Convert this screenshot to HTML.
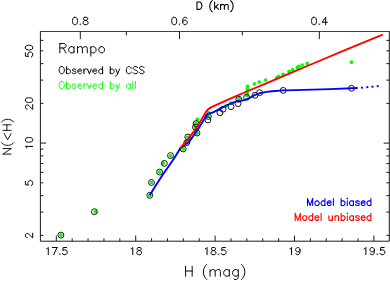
<!DOCTYPE html>
<html><head><meta charset="utf-8"><title>Rampo</title>
<style>html,body{margin:0;padding:0;background:#fff;font-family:"Liberation Sans",sans-serif;}svg{display:block}</style>
</head><body>
<svg width="390" height="281" viewBox="0 0 390 281">
<rect width="390" height="281" fill="#fff"/>
<g fill="none" stroke="#1a1a1a" stroke-width="1" stroke-linecap="butt">
<path d="M40.40 31.00V241.20H389.30V31.00"/>
<path d="M40.40 31.50H389.30" stroke="#383838" stroke-width="0.95"/>
<path d="M56.30 241.20V235.60M72.18 241.20V238.30M88.06 241.20V238.30M103.94 241.20V238.30M119.82 241.20V238.30M135.70 241.20V235.60M151.58 241.20V238.30M167.46 241.20V238.30M183.34 241.20V238.30M199.22 241.20V238.30M215.10 241.20V235.60M230.98 241.20V238.30M246.86 241.20V238.30M262.74 241.20V238.30M278.62 241.20V238.30M294.50 241.20V235.60M310.38 241.20V238.30M326.26 241.20V238.30M342.14 241.20V238.30M358.02 241.20V238.30M373.90 241.20V235.60M80.30 31.50V39.10M126.35 31.50V35.40M179.50 31.50V39.10M242.37 31.50V35.40M319.32 31.50V39.10M40.40 235.36H43.40M389.30 235.36H386.30M40.40 212.12H43.40M389.30 212.12H386.30M40.40 195.63H43.40M389.30 195.63H386.30M40.40 182.84H43.40M389.30 182.84H386.30M40.40 172.38H43.40M389.30 172.38H386.30M40.40 163.55H43.40M389.30 163.55H386.30M40.40 155.89H43.40M389.30 155.89H386.30M40.40 149.14H43.40M389.30 149.14H386.30M40.40 143.10H46.10M389.30 143.10H383.60M40.40 103.36H43.40M389.30 103.36H386.30M40.40 80.12H43.40M389.30 80.12H386.30M40.40 63.63H43.40M389.30 63.63H386.30M40.40 50.84H43.40M389.30 50.84H386.30M40.40 40.38H43.40M389.30 40.38H386.30"/>
</g>
<g fill="#00ff00" stroke="none">
<circle cx="60.9" cy="235.1" r="1.85"/>
<circle cx="95.4" cy="211.7" r="1.85"/>
<circle cx="149.8" cy="195.3" r="1.85"/>
<circle cx="151.5" cy="182.5" r="1.85"/>
<circle cx="159.6" cy="172.1" r="1.85"/>
<circle cx="163.1" cy="163.4" r="1.85"/>
<circle cx="170.5" cy="155.8" r="1.85"/>
<circle cx="183.3" cy="148.9" r="1.85"/>
<circle cx="186.8" cy="142.6" r="1.85"/>
<circle cx="187.8" cy="137.0" r="1.85"/>
<circle cx="197.0" cy="133.2" r="1.85"/>
<circle cx="195.4" cy="127.3" r="1.85"/>
<circle cx="196.0" cy="123.4" r="1.85"/>
<circle cx="197.4" cy="119.3" r="1.85"/>
<circle cx="208.2" cy="116.3" r="1.85"/>
<circle cx="208.4" cy="112.6" r="1.85"/>
<circle cx="219.9" cy="109.0" r="1.85"/>
<circle cx="225.9" cy="106.0" r="1.85"/>
<circle cx="230.6" cy="103.1" r="1.85"/>
<circle cx="238.8" cy="100.3" r="1.85"/>
<circle cx="238.9" cy="98.3" r="1.85"/>
<circle cx="246.9" cy="95.4" r="1.85"/>
<circle cx="247.2" cy="92.9" r="1.85"/>
<circle cx="247.5" cy="90.4" r="1.85"/>
<circle cx="247.6" cy="88.2" r="1.85"/>
<circle cx="247.6" cy="86.3" r="1.85"/>
<circle cx="254.4" cy="83.9" r="1.85"/>
<circle cx="259.2" cy="82.0" r="1.85"/>
<circle cx="265.7" cy="80.0" r="1.85"/>
<circle cx="276.6" cy="77.8" r="1.85"/>
<circle cx="278.5" cy="76.3" r="1.85"/>
<circle cx="283.2" cy="74.3" r="1.85"/>
<circle cx="289.1" cy="71.4" r="1.85"/>
<circle cx="292.6" cy="69.7" r="1.85"/>
<circle cx="297.4" cy="67.4" r="1.85"/>
<circle cx="299.0" cy="66.3" r="1.85"/>
<circle cx="302.2" cy="65.0" r="1.85"/>
<circle cx="307.2" cy="63.4" r="1.85"/>
<circle cx="351.5" cy="62.2" r="1.85"/>
</g>
<g fill="none" stroke="#000" stroke-width="0.9">
<circle cx="60.9" cy="235.1" r="2.95"/>
<circle cx="94.4" cy="211.7" r="2.95"/>
<circle cx="149.8" cy="195.3" r="2.95"/>
<circle cx="151.5" cy="182.5" r="2.95"/>
<circle cx="159.6" cy="172.1" r="2.95"/>
<circle cx="164.3" cy="163.4" r="2.95"/>
<circle cx="170.5" cy="155.6" r="2.95"/>
<circle cx="183.2" cy="148.9" r="2.95"/>
<circle cx="186.8" cy="142.6" r="2.95"/>
<circle cx="187.8" cy="137.0" r="2.95"/>
<circle cx="197.0" cy="133.0" r="2.95"/>
<circle cx="195.4" cy="127.3" r="2.95"/>
<circle cx="196.1" cy="123.6" r="2.95"/>
<circle cx="207.9" cy="120.0" r="2.95"/>
<circle cx="208.3" cy="116.5" r="2.95"/>
<circle cx="219.9" cy="112.8" r="2.95"/>
<circle cx="223.1" cy="109.2" r="2.95"/>
<circle cx="231.0" cy="106.7" r="2.95"/>
<circle cx="238.0" cy="103.6" r="2.95"/>
<circle cx="238.8" cy="99.2" r="2.95"/>
<circle cx="246.6" cy="97.3" r="2.95"/>
<circle cx="255.0" cy="95.3" r="2.95"/>
<circle cx="259.6" cy="92.7" r="2.95"/>
<circle cx="283.2" cy="90.4" r="2.95"/>
<circle cx="351.5" cy="88.3" r="2.95"/>
</g>
<path d="M149.7 195.3L155.3 186.2L161.4 176.8L167.3 168.2L173.5 159.2L178.4 151.5L180.1 148.6L184.6 145.0L189.1 142.0L198.5 128.4L206.0 116.2L207.6 114.4L209.5 113.2L212.0 112.8L216.0 110.8L221.3 108.1L226.0 105.6L230.8 103.5L236.0 101.6L241.0 100.8L245.0 99.8L249.9 97.8L254.5 95.1L260.1 93.1L266.6 91.9L272.0 91.3L283.2 90.4L295.0 90.1L330.0 89.1L357.7 88.0" fill="none" stroke="#0000ff" stroke-width="1.9" stroke-linejoin="round"/>
<path d="M361.0 87.8L363.0 87.6" stroke="#0000ff" stroke-width="1.9"/>
<path d="M366.3 87.3L368.3 87.1" stroke="#0000ff" stroke-width="1.9"/>
<path d="M371.5 86.8L373.5 86.6" stroke="#0000ff" stroke-width="1.9"/>
<path d="M376.7 86.3L378.7 86.1" stroke="#0000ff" stroke-width="1.9"/>
<path d="M180.2 148.3L187.3 139.8L194.5 130.6L201.0 120.4L206.2 111.4L207.8 109.6L209.8 108.1L212.5 106.7L222.0 102.4L236.0 96.1L248.0 91.0L268.0 82.7L295.0 71.2L312.0 64.0L345.0 50.2L382.7 34.7" fill="none" stroke="#ff0000" stroke-width="1.9" stroke-linejoin="round"/>
<g fill="none" stroke-linecap="round" stroke-linejoin="round">
<path d="M74.65 17.31L73.60 17.66L72.89 18.72L72.54 20.48L72.54 21.53L72.89 23.29L73.60 24.35L74.65 24.70L75.36 24.70L76.42 24.35L77.13 23.29L77.48 21.53L77.48 20.48L77.13 18.72L76.42 17.66L75.36 17.31L74.65 17.31M80.30 24.00L79.95 24.35L80.30 24.70L80.66 24.35L80.30 24.00M84.89 17.31L83.83 17.66L83.48 18.36L83.48 19.07L83.83 19.77L84.54 20.12L85.95 20.48L87.01 20.83L87.72 21.53L88.07 22.24L88.07 23.29L87.72 24.00L87.36 24.35L86.30 24.70L84.89 24.70L83.83 24.35L83.48 24.00L83.13 23.29L83.13 22.24L83.48 21.53L84.19 20.83L85.24 20.48L86.66 20.12L87.36 19.77L87.72 19.07L87.72 18.36L87.36 17.66L86.30 17.31L84.89 17.31" stroke="#000" stroke-width="1.00"/>
<path d="M173.86 17.31L172.80 17.66L172.09 18.72L171.74 20.48L171.74 21.53L172.09 23.29L172.80 24.35L173.86 24.70L174.56 24.70L175.62 24.35L176.33 23.29L176.68 21.53L176.68 20.48L176.33 18.72L175.62 17.66L174.56 17.31L173.86 17.31M179.50 24.00L179.15 24.35L179.50 24.70L179.86 24.35L179.50 24.00M186.92 18.36L186.56 17.66L185.50 17.31L184.80 17.31L183.74 17.66L183.03 18.72L182.68 20.48L182.68 22.24L183.03 23.64L183.74 24.35L184.80 24.70L185.15 24.70L186.21 24.35L186.92 23.64L187.27 22.59L187.27 22.24L186.92 21.18L186.21 20.48L185.15 20.12L184.80 20.12L183.74 20.48L183.03 21.18L182.68 22.24" stroke="#000" stroke-width="1.00"/>
<path d="M313.67 17.31L312.61 17.66L311.91 18.72L311.55 20.48L311.55 21.53L311.91 23.29L312.61 24.35L313.67 24.70L314.38 24.70L315.44 24.35L316.14 23.29L316.50 21.53L316.50 20.48L316.14 18.72L315.44 17.66L314.38 17.31L313.67 17.31M319.32 24.00L318.97 24.35L319.32 24.70L319.67 24.35L319.32 24.00M325.67 17.31L322.14 22.24L327.44 22.24M325.67 17.31L325.67 24.70" stroke="#000" stroke-width="1.00"/>
<path d="M46.57 248.87L47.25 248.53L48.26 247.50L48.26 254.70M57.08 247.50L53.69 254.70M52.33 247.50L57.08 247.50M59.79 254.01L59.45 254.36L59.79 254.70L60.13 254.36L59.79 254.01M66.57 247.50L63.18 247.50L62.84 250.58L63.18 250.24L64.20 249.90L65.21 249.90L66.23 250.24L66.91 250.93L67.25 251.96L67.25 252.64L66.91 253.67L66.23 254.36L65.21 254.70L64.20 254.70L63.18 254.36L62.84 254.01L62.50 253.33" stroke="#000" stroke-width="1.00"/>
<path d="M131.05 248.87L131.73 248.53L132.75 247.50L132.75 254.70M138.51 247.50L137.49 247.84L137.16 248.53L137.16 249.21L137.49 249.90L138.17 250.24L139.53 250.58L140.55 250.93L141.22 251.61L141.56 252.30L141.56 253.33L141.22 254.01L140.88 254.36L139.87 254.70L138.51 254.70L137.49 254.36L137.16 254.01L136.82 253.33L136.82 252.30L137.16 251.61L137.83 250.93L138.85 250.58L140.21 250.24L140.88 249.90L141.22 249.21L141.22 248.53L140.88 247.84L139.87 247.50L138.51 247.50" stroke="#000" stroke-width="1.00"/>
<path d="M205.37 248.87L206.05 248.53L207.06 247.50L207.06 254.70M212.83 247.50L211.81 247.84L211.47 248.53L211.47 249.21L211.81 249.90L212.49 250.24L213.84 250.58L214.86 250.93L215.54 251.61L215.88 252.30L215.88 253.33L215.54 254.01L215.20 254.36L214.18 254.70L212.83 254.70L211.81 254.36L211.47 254.01L211.13 253.33L211.13 252.30L211.47 251.61L212.15 250.93L213.17 250.58L214.52 250.24L215.20 249.90L215.54 249.21L215.54 248.53L215.20 247.84L214.18 247.50L212.83 247.50M218.59 254.01L218.25 254.36L218.59 254.70L218.93 254.36L218.59 254.01M225.37 247.50L221.98 247.50L221.64 250.58L221.98 250.24L223.00 249.90L224.01 249.90L225.03 250.24L225.71 250.93L226.05 251.96L226.05 252.64L225.71 253.67L225.03 254.36L224.01 254.70L223.00 254.70L221.98 254.36L221.64 254.01L221.30 253.33" stroke="#000" stroke-width="1.00"/>
<path d="M289.85 248.87L290.53 248.53L291.55 247.50L291.55 254.70M300.02 249.90L299.69 250.93L299.01 251.61L297.99 251.96L297.65 251.96L296.63 251.61L295.96 250.93L295.62 249.90L295.62 249.55L295.96 248.53L296.63 247.84L297.65 247.50L297.99 247.50L299.01 247.84L299.69 248.53L300.02 249.90L300.02 251.61L299.69 253.33L299.01 254.36L297.99 254.70L297.31 254.70L296.30 254.36L295.96 253.67" stroke="#000" stroke-width="1.00"/>
<path d="M364.17 248.87L364.85 248.53L365.86 247.50L365.86 254.70M374.34 249.90L374.00 250.93L373.32 251.61L372.31 251.96L371.97 251.96L370.95 251.61L370.27 250.93L369.93 249.90L369.93 249.55L370.27 248.53L370.95 247.84L371.97 247.50L372.31 247.50L373.32 247.84L374.00 248.53L374.34 249.90L374.34 251.61L374.00 253.33L373.32 254.36L372.31 254.70L371.63 254.70L370.61 254.36L370.27 253.67M377.39 254.01L377.05 254.36L377.39 254.70L377.73 254.36L377.39 254.01M384.17 247.50L380.78 247.50L380.44 250.58L380.78 250.24L381.80 249.90L382.81 249.90L383.83 250.24L384.51 250.93L384.85 251.96L384.85 252.64L384.51 253.67L383.83 254.36L382.81 254.70L381.80 254.70L380.78 254.36L380.44 254.01L380.10 253.33" stroke="#000" stroke-width="1.00"/>
<path d="M25.41 52.75L25.41 56.18L28.54 56.52L28.19 56.18L27.84 55.15L27.84 54.12L28.19 53.09L28.88 52.41L29.92 52.06L30.62 52.06L31.66 52.41L32.35 53.09L32.70 54.12L32.70 55.15L32.35 56.18L32.01 56.52L31.31 56.87M25.41 47.95L25.76 48.98L26.80 49.66L28.54 50.01L29.58 50.01L31.31 49.66L32.35 48.98L32.70 47.95L32.70 47.26L32.35 46.23L31.31 45.55L29.58 45.20L28.54 45.20L26.80 45.55L25.76 46.23L25.41 47.26L25.41 47.95" stroke="#000" stroke-width="1.00"/>
<path d="M27.15 109.05L26.80 109.05L26.11 108.71L25.76 108.37L25.41 107.68L25.41 106.31L25.76 105.62L26.11 105.28L26.80 104.94L27.50 104.94L28.19 105.28L29.23 105.97L32.70 109.40L32.70 104.59M25.41 100.48L25.76 101.51L26.80 102.19L28.54 102.54L29.58 102.54L31.31 102.19L32.35 101.51L32.70 100.48L32.70 99.79L32.35 98.76L31.31 98.08L29.58 97.73L28.54 97.73L26.80 98.08L25.76 98.76L25.41 99.79L25.41 100.48" stroke="#000" stroke-width="1.00"/>
<path d="M26.80 148.10L26.45 147.42L25.41 146.39L32.70 146.39M25.41 140.21L25.76 141.24L26.80 141.93L28.54 142.27L29.58 142.27L31.31 141.93L32.35 141.24L32.70 140.21L32.70 139.53L32.35 138.50L31.31 137.81L29.58 137.47L28.54 137.47L26.80 137.81L25.76 138.50L25.41 139.53L25.41 140.21" stroke="#000" stroke-width="1.00"/>
<path d="M25.41 181.32L25.41 184.75L28.54 185.09L28.19 184.75L27.84 183.72L27.84 182.69L28.19 181.66L28.88 180.98L29.92 180.63L30.62 180.63L31.66 180.98L32.35 181.66L32.70 182.69L32.70 183.72L32.35 184.75L32.01 185.09L31.31 185.44" stroke="#000" stroke-width="1.00"/>
<path d="M27.15 237.62L26.80 237.62L26.11 237.28L25.76 236.94L25.41 236.25L25.41 234.88L25.76 234.19L26.11 233.85L26.80 233.51L27.50 233.51L28.19 233.85L29.23 234.54L32.70 237.97L32.70 233.16" stroke="#000" stroke-width="1.00"/>
<path d="M196.96 2.00L196.96 9.35M196.96 2.00L199.38 2.00L200.43 2.35L201.12 3.05L201.47 3.75L201.81 4.80L201.81 6.55L201.47 7.60L201.12 8.30L200.43 9.00L199.38 9.35L196.96 9.35M212.22 0.60L211.53 1.30L210.84 2.35L210.14 3.75L209.79 5.50L209.79 6.90L210.14 8.65L210.84 10.05L211.53 11.10L212.22 11.80M214.65 2.00L214.65 9.35M218.12 4.45L214.65 7.95M216.04 6.55L218.47 9.35M220.55 4.45L220.55 9.35M220.55 5.85L221.59 4.80L222.29 4.45L223.33 4.45L224.02 4.80L224.37 5.85L224.37 9.35M224.37 5.85L225.41 4.80L226.10 4.45L227.15 4.45L227.84 4.80L228.19 5.85L228.19 9.35M230.62 0.60L231.31 1.30L232.00 2.35L232.70 3.75L233.04 5.50L233.04 6.90L232.70 8.65L232.00 10.05L231.31 11.10L230.62 11.80" stroke="#000" stroke-width="1.08"/>
<path d="M185.59 266.29L185.59 276.20M192.17 266.29L192.17 276.20M185.59 271.01L192.17 271.01M206.74 264.40L205.80 265.34L204.86 266.76L203.92 268.65L203.45 271.01L203.45 272.90L203.92 275.26L204.86 277.14L205.80 278.56L206.74 279.50M210.03 269.59L210.03 276.20M210.03 271.48L211.44 270.06L212.38 269.59L213.79 269.59L214.73 270.06L215.20 271.48L215.20 276.20M215.20 271.48L216.61 270.06L217.55 269.59L218.96 269.59L219.90 270.06L220.37 271.48L220.37 276.20M229.30 269.59L229.30 276.20M229.30 271.01L228.36 270.06L227.42 269.59L226.01 269.59L225.07 270.06L224.13 271.01L223.66 272.42L223.66 273.37L224.13 274.78L225.07 275.73L226.01 276.20L227.42 276.20L228.36 275.73L229.30 274.78M238.23 269.59L238.23 277.14L237.76 278.56L237.29 279.03L236.35 279.50L234.94 279.50L234.00 279.03M238.23 271.01L237.29 270.06L236.35 269.59L234.94 269.59L234.00 270.06L233.06 271.01L232.59 272.42L232.59 273.37L233.06 274.78L234.00 275.73L234.94 276.20L236.35 276.20L237.29 275.73L238.23 274.78M241.52 264.40L242.46 265.34L243.40 266.76L244.34 268.65L244.81 271.01L244.81 272.90L244.34 275.26L243.40 277.14L242.46 278.56L241.52 279.50" stroke="#000" stroke-width="0.97"/>
<path d="M3.01 154.08L11.10 154.08M3.01 154.08L11.10 148.55M3.01 148.55L11.10 148.55M1.47 142.62L2.24 143.41L3.40 144.20L4.94 144.99L6.86 145.39L8.40 145.39L10.33 144.99L11.87 144.20L13.03 143.41L13.79 142.62M4.17 133.54L7.63 139.86L11.10 133.54M3.01 130.38L11.10 130.38M3.01 124.85L11.10 124.85M6.86 130.38L6.86 124.85M1.47 122.08L2.24 121.29L3.40 120.50L4.94 119.71L6.86 119.32L8.40 119.32L10.33 119.71L11.87 120.50L13.03 121.29L13.79 122.08" stroke="#000" stroke-width="0.90"/>
<path d="M59.87 43.51L59.87 52.90M59.87 43.51L63.85 43.51L65.17 43.96L65.61 44.41L66.06 45.30L66.06 46.20L65.61 47.09L65.17 47.54L63.85 47.98L59.87 47.98M62.96 47.98L66.06 52.90M74.01 46.64L74.01 52.90M74.01 47.98L73.13 47.09L72.24 46.64L70.92 46.64L70.03 47.09L69.15 47.98L68.71 49.32L68.71 50.22L69.15 51.56L70.03 52.45L70.92 52.90L72.24 52.90L73.13 52.45L74.01 51.56M77.55 46.64L77.55 52.90M77.55 48.43L78.87 47.09L79.76 46.64L81.08 46.64L81.97 47.09L82.41 48.43L82.41 52.90M82.41 48.43L83.74 47.09L84.62 46.64L85.95 46.64L86.83 47.09L87.27 48.43L87.27 52.90M90.81 46.64L90.81 56.03M90.81 47.98L91.69 47.09L92.58 46.64L93.90 46.64L94.79 47.09L95.67 47.98L96.11 49.32L96.11 50.22L95.67 51.56L94.79 52.45L93.90 52.90L92.58 52.90L91.69 52.45L90.81 51.56M100.97 46.64L100.09 47.09L99.21 47.98L98.76 49.32L98.76 50.22L99.21 51.56L100.09 52.45L100.97 52.90L102.30 52.90L103.18 52.45L104.07 51.56L104.51 50.22L104.51 49.32L104.07 47.98L103.18 47.09L102.30 46.64L100.97 46.64" stroke="#000" stroke-width="0.98"/>
<path d="M61.09 66.62L60.45 66.96L59.81 67.63L59.49 68.31L59.16 69.32L59.16 71.00L59.49 72.02L59.81 72.69L60.45 73.36L61.09 73.70L62.38 73.70L63.02 73.36L63.67 72.69L63.99 72.02L64.31 71.00L64.31 69.32L63.99 68.31L63.67 67.63L63.02 66.96L62.38 66.62L61.09 66.62M66.56 66.62L66.56 73.70M66.56 69.99L67.20 69.32L67.84 68.98L68.81 68.98L69.45 69.32L70.10 69.99L70.42 71.00L70.42 71.68L70.10 72.69L69.45 73.36L68.81 73.70L67.84 73.70L67.20 73.36L66.56 72.69M75.88 69.99L75.56 69.32L74.60 68.98L73.63 68.98L72.67 69.32L72.35 69.99L72.67 70.67L73.31 71.00L74.92 71.34L75.56 71.68L75.88 72.35L75.88 72.69L75.56 73.36L74.60 73.70L73.63 73.70L72.67 73.36L72.35 72.69M77.81 71.00L81.67 71.00L81.67 70.33L81.35 69.66L81.03 69.32L80.38 68.98L79.42 68.98L78.78 69.32L78.13 69.99L77.81 71.00L77.81 71.68L78.13 72.69L78.78 73.36L79.42 73.70L80.38 73.70L81.03 73.36L81.67 72.69M83.92 68.98L83.92 73.70M83.92 71.00L84.24 69.99L84.88 69.32L85.53 68.98L86.49 68.98M87.46 68.98L89.39 73.70M91.31 68.98L89.39 73.70M92.92 71.00L96.78 71.00L96.78 70.33L96.46 69.66L96.14 69.32L95.49 68.98L94.53 68.98L93.89 69.32L93.24 69.99L92.92 71.00L92.92 71.68L93.24 72.69L93.89 73.36L94.53 73.70L95.49 73.70L96.14 73.36L96.78 72.69M102.57 66.62L102.57 73.70M102.57 69.99L101.92 69.32L101.28 68.98L100.32 68.98L99.67 69.32L99.03 69.99L98.71 71.00L98.71 71.68L99.03 72.69L99.67 73.36L100.32 73.70L101.28 73.70L101.92 73.36L102.57 72.69M110.28 66.62L110.28 73.70M110.28 69.99L110.93 69.32L111.57 68.98L112.53 68.98L113.18 69.32L113.82 69.99L114.14 71.00L114.14 71.68L113.82 72.69L113.18 73.36L112.53 73.70L111.57 73.70L110.93 73.36L110.28 72.69M115.75 68.98L117.68 73.70M119.61 68.98L117.68 73.70L117.03 75.05L116.39 75.72L115.75 76.06L115.43 76.06M131.18 68.31L130.86 67.63L130.22 66.96L129.57 66.62L128.29 66.62L127.64 66.96L127.00 67.63L126.68 68.31L126.36 69.32L126.36 71.00L126.68 72.02L127.00 72.69L127.64 73.36L128.29 73.70L129.57 73.70L130.22 73.36L130.86 72.69L131.18 72.02M137.61 67.63L136.97 66.96L136.00 66.62L134.72 66.62L133.75 66.96L133.11 67.63L133.11 68.31L133.43 68.98L133.75 69.32L134.40 69.66L136.32 70.33L136.97 70.67L137.29 71.00L137.61 71.68L137.61 72.69L136.97 73.36L136.00 73.70L134.72 73.70L133.75 73.36L133.11 72.69M144.04 67.63L143.40 66.96L142.43 66.62L141.15 66.62L140.18 66.96L139.54 67.63L139.54 68.31L139.86 68.98L140.18 69.32L140.83 69.66L142.75 70.33L143.40 70.67L143.72 71.00L144.04 71.68L144.04 72.69L143.40 73.36L142.43 73.70L141.15 73.70L140.18 73.36L139.54 72.69" stroke="#000" stroke-width="0.98"/>
<path d="M61.09 81.52L60.45 81.86L59.81 82.53L59.49 83.21L59.16 84.22L59.16 85.90L59.49 86.91L59.81 87.59L60.45 88.26L61.09 88.60L62.38 88.60L63.02 88.26L63.67 87.59L63.99 86.91L64.31 85.90L64.31 84.22L63.99 83.21L63.67 82.53L63.02 81.86L62.38 81.52L61.09 81.52M66.56 81.52L66.56 88.60M66.56 84.89L67.20 84.22L67.84 83.88L68.81 83.88L69.45 84.22L70.10 84.89L70.42 85.90L70.42 86.58L70.10 87.59L69.45 88.26L68.81 88.60L67.84 88.60L67.20 88.26L66.56 87.59M75.88 84.89L75.56 84.22L74.60 83.88L73.63 83.88L72.67 84.22L72.35 84.89L72.67 85.57L73.31 85.90L74.92 86.24L75.56 86.58L75.88 87.25L75.88 87.59L75.56 88.26L74.60 88.60L73.63 88.60L72.67 88.26L72.35 87.59M77.81 85.90L81.67 85.90L81.67 85.23L81.35 84.56L81.03 84.22L80.38 83.88L79.42 83.88L78.78 84.22L78.13 84.89L77.81 85.90L77.81 86.58L78.13 87.59L78.78 88.26L79.42 88.60L80.38 88.60L81.03 88.26L81.67 87.59M83.92 83.88L83.92 88.60M83.92 85.90L84.24 84.89L84.88 84.22L85.53 83.88L86.49 83.88M87.46 83.88L89.39 88.60M91.31 83.88L89.39 88.60M92.92 85.90L96.78 85.90L96.78 85.23L96.46 84.56L96.14 84.22L95.49 83.88L94.53 83.88L93.89 84.22L93.24 84.89L92.92 85.90L92.92 86.58L93.24 87.59L93.89 88.26L94.53 88.60L95.49 88.60L96.14 88.26L96.78 87.59M102.57 81.52L102.57 88.60M102.57 84.89L101.92 84.22L101.28 83.88L100.32 83.88L99.67 84.22L99.03 84.89L98.71 85.90L98.71 86.58L99.03 87.59L99.67 88.26L100.32 88.60L101.28 88.60L101.92 88.26L102.57 87.59M110.28 81.52L110.28 88.60M110.28 84.89L110.93 84.22L111.57 83.88L112.53 83.88L113.18 84.22L113.82 84.89L114.14 85.90L114.14 86.58L113.82 87.59L113.18 88.26L112.53 88.60L111.57 88.60L110.93 88.26L110.28 87.59M115.75 83.88L117.68 88.60M119.61 83.88L117.68 88.60L117.03 89.95L116.39 90.62L115.75 90.96L115.43 90.96M130.22 83.88L130.22 88.60M130.22 84.89L129.57 84.22L128.93 83.88L127.97 83.88L127.32 84.22L126.68 84.89L126.36 85.90L126.36 86.58L126.68 87.59L127.32 88.26L127.97 88.60L128.93 88.60L129.57 88.26L130.22 87.59M132.79 81.52L132.79 88.60M135.36 81.52L135.36 88.60" stroke="#00ff00" stroke-width="0.95"/>
<path d="M307.50 198.52L307.50 205.55M307.50 198.52L310.09 205.55M312.68 198.52L310.09 205.55M312.68 198.52L312.68 205.55M316.56 200.86L315.91 201.20L315.26 201.87L314.94 202.87L314.94 203.54L315.26 204.55L315.91 205.22L316.56 205.55L317.53 205.55L318.18 205.22L318.82 204.55L319.15 203.54L319.15 202.87L318.82 201.87L318.18 201.20L317.53 200.86L316.56 200.86M324.97 198.52L324.97 205.55M324.97 201.87L324.32 201.20L323.68 200.86L322.70 200.86L322.06 201.20L321.41 201.87L321.09 202.87L321.09 203.54L321.41 204.55L322.06 205.22L322.70 205.55L323.68 205.55L324.32 205.22L324.97 204.55M327.23 202.87L331.12 202.87L331.12 202.20L330.79 201.53L330.47 201.20L329.82 200.86L328.85 200.86L328.20 201.20L327.56 201.87L327.23 202.87L327.23 203.54L327.56 204.55L328.20 205.22L328.85 205.55L329.82 205.55L330.47 205.22L331.12 204.55M333.38 198.52L333.38 205.55M341.14 198.52L341.14 205.55M341.14 201.87L341.79 201.20L342.44 200.86L343.41 200.86L344.06 201.20L344.70 201.87L345.03 202.87L345.03 203.54L344.70 204.55L344.06 205.22L343.41 205.55L342.44 205.55L341.79 205.22L341.14 204.55M346.97 198.52L347.29 198.85L347.61 198.52L347.29 198.18L346.97 198.52M347.29 200.86L347.29 205.55M353.44 200.86L353.44 205.55M353.44 201.87L352.79 201.20L352.14 200.86L351.17 200.86L350.53 201.20L349.88 201.87L349.56 202.87L349.56 203.54L349.88 204.55L350.53 205.22L351.17 205.55L352.14 205.55L352.79 205.22L353.44 204.55M359.26 201.87L358.94 201.20L357.97 200.86L357.00 200.86L356.02 201.20L355.70 201.87L356.02 202.54L356.67 202.87L358.29 203.21L358.94 203.54L359.26 204.21L359.26 204.55L358.94 205.22L357.97 205.55L357.00 205.55L356.02 205.22L355.70 204.55M361.20 202.87L365.08 202.87L365.08 202.20L364.76 201.53L364.44 201.20L363.79 200.86L362.82 200.86L362.17 201.20L361.52 201.87L361.20 202.87L361.20 203.54L361.52 204.55L362.17 205.22L362.82 205.55L363.79 205.55L364.44 205.22L365.08 204.55M370.91 198.52L370.91 205.55M370.91 201.87L370.26 201.20L369.61 200.86L368.64 200.86L367.99 201.20L367.35 201.87L367.02 202.87L367.02 203.54L367.35 204.55L367.99 205.22L368.64 205.55L369.61 205.55L370.26 205.22L370.91 204.55" stroke="#0000ff" stroke-width="1.10"/>
<path d="M295.21 213.37L295.21 220.40M295.21 213.37L297.79 220.40M300.38 213.37L297.79 220.40M300.38 213.37L300.38 220.40M304.26 215.71L303.62 216.05L302.97 216.72L302.65 217.72L302.65 218.39L302.97 219.40L303.62 220.06L304.26 220.40L305.24 220.40L305.88 220.06L306.53 219.40L306.85 218.39L306.85 217.72L306.53 216.72L305.88 216.05L305.24 215.71L304.26 215.71M312.68 213.37L312.68 220.40M312.68 216.72L312.03 216.05L311.38 215.71L310.41 215.71L309.76 216.05L309.12 216.72L308.79 217.72L308.79 218.39L309.12 219.40L309.76 220.06L310.41 220.40L311.38 220.40L312.03 220.06L312.68 219.40M314.94 217.72L318.82 217.72L318.82 217.05L318.50 216.38L318.18 216.05L317.53 215.71L316.56 215.71L315.91 216.05L315.26 216.72L314.94 217.72L314.94 218.39L315.26 219.40L315.91 220.06L316.56 220.40L317.53 220.40L318.18 220.06L318.82 219.40M321.09 213.37L321.09 220.40M328.85 215.71L328.85 219.06L329.17 220.06L329.82 220.40L330.79 220.40L331.44 220.06L332.41 219.06M332.41 215.71L332.41 220.40M335.00 215.71L335.00 220.40M335.00 217.05L335.97 216.05L336.62 215.71L337.59 215.71L338.23 216.05L338.56 217.05L338.56 220.40M341.14 213.37L341.14 220.40M341.14 216.72L341.79 216.05L342.44 215.71L343.41 215.71L344.06 216.05L344.70 216.72L345.03 217.72L345.03 218.39L344.70 219.40L344.06 220.06L343.41 220.40L342.44 220.40L341.79 220.06L341.14 219.40M346.97 213.37L347.29 213.70L347.61 213.37L347.29 213.03L346.97 213.37M347.29 215.71L347.29 220.40M353.44 215.71L353.44 220.40M353.44 216.72L352.79 216.05L352.14 215.71L351.17 215.71L350.53 216.05L349.88 216.72L349.56 217.72L349.56 218.39L349.88 219.40L350.53 220.06L351.17 220.40L352.14 220.40L352.79 220.06L353.44 219.40M359.26 216.72L358.94 216.05L357.97 215.71L357.00 215.71L356.02 216.05L355.70 216.72L356.02 217.39L356.67 217.72L358.29 218.06L358.94 218.39L359.26 219.06L359.26 219.40L358.94 220.06L357.97 220.40L357.00 220.40L356.02 220.06L355.70 219.40M361.20 217.72L365.08 217.72L365.08 217.05L364.76 216.38L364.44 216.05L363.79 215.71L362.82 215.71L362.17 216.05L361.52 216.72L361.20 217.72L361.20 218.39L361.52 219.40L362.17 220.06L362.82 220.40L363.79 220.40L364.44 220.06L365.08 219.40M370.91 213.37L370.91 220.40M370.91 216.72L370.26 216.05L369.61 215.71L368.64 215.71L367.99 216.05L367.35 216.72L367.02 217.72L367.02 218.39L367.35 219.40L367.99 220.06L368.64 220.40L369.61 220.40L370.26 220.06L370.91 219.40" stroke="#ff0000" stroke-width="1.10"/>
</g>
</svg>
</body></html>
